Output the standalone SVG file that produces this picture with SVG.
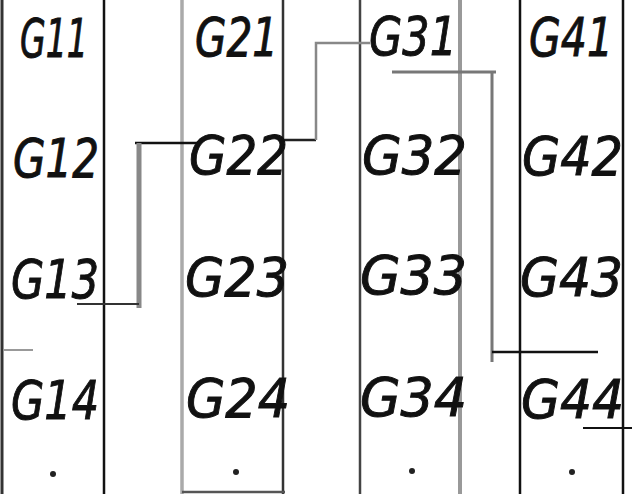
<svg xmlns="http://www.w3.org/2000/svg" width="632" height="494" viewBox="0 0 632 494">
<style>
text{font-family:"DejaVu Sans","Liberation Sans",sans-serif;font-size:54px;font-style:oblique;fill:#111;stroke:#111;stroke-width:1;}
.dot{fill:#222;}
</style>
<rect x="0" y="0" width="632" height="494" fill="#fff"/>
<g id="columns">
<line x1="2" y1="0" x2="2" y2="494" stroke="#333" stroke-width="3"/>
<line x1="104" y1="0" x2="104" y2="494" stroke="#111" stroke-width="2.5"/>
<line x1="182" y1="0" x2="182" y2="494" stroke="#aaa" stroke-width="3.5"/>
<line x1="283" y1="0" x2="283" y2="494" stroke="#333" stroke-width="2.5"/>
<line x1="182" y1="492" x2="285" y2="492" stroke="#555" stroke-width="2.5"/>
<line x1="360" y1="0" x2="360" y2="494" stroke="#444" stroke-width="2.5"/>
<line x1="460" y1="0" x2="460" y2="494" stroke="#999" stroke-width="4"/>
<line x1="520" y1="0" x2="520" y2="494" stroke="#111" stroke-width="2.5"/>
<line x1="623" y1="0" x2="623" y2="494" stroke="#111" stroke-width="2.5"/>
</g>
<g id="connectors" fill="none">
<path d="M283 140H316" stroke="#222" stroke-width="2.5"/>
<path d="M316 140V43H370" stroke="#888" stroke-width="2.5"/>
<path d="M392 72H496" stroke="#777" stroke-width="3"/>
<path d="M492 72V362" stroke="#777" stroke-width="3"/>
<path d="M492 352H598" stroke="#111" stroke-width="2.5"/>
<path d="M135 143H200" stroke="#111" stroke-width="2.5"/>
<path d="M139 143V308" stroke="#888" stroke-width="5"/>
<path d="M77 304H139" stroke="#333" stroke-width="2"/>
<path d="M3 350H33" stroke="#999" stroke-width="2"/>
<path d="M583 428H632" stroke="#111" stroke-width="2"/>
</g>
<g id="G11"><text x="20" y="57" textLength="68" lengthAdjust="spacingAndGlyphs">G11</text></g>
<g id="G21"><text x="195" y="56" textLength="83" lengthAdjust="spacingAndGlyphs">G21</text></g>
<g id="G31"><text x="369" y="55" textLength="88" lengthAdjust="spacingAndGlyphs">G31</text></g>
<g id="G41"><text x="529" y="56" textLength="84" lengthAdjust="spacingAndGlyphs">G41</text></g>
<g id="G12"><text x="13" y="177" textLength="86" lengthAdjust="spacingAndGlyphs">G12</text></g>
<g id="G22"><text x="189" y="174" textLength="99" lengthAdjust="spacingAndGlyphs">G22</text></g>
<g id="G32"><text x="362" y="174" textLength="105" lengthAdjust="spacingAndGlyphs">G32</text></g>
<g id="G42"><text x="522" y="175" textLength="101" lengthAdjust="spacingAndGlyphs">G42</text></g>
<g id="G13"><text x="11" y="298" textLength="88" lengthAdjust="spacingAndGlyphs">G13</text></g>
<g id="G23"><text x="185" y="296" textLength="104" lengthAdjust="spacingAndGlyphs">G23</text></g>
<g id="G33"><text x="360" y="294" textLength="107" lengthAdjust="spacingAndGlyphs">G33</text></g>
<g id="G43"><text x="520" y="296" textLength="103" lengthAdjust="spacingAndGlyphs">G43</text></g>
<g id="G14"><text x="11" y="419" textLength="88" lengthAdjust="spacingAndGlyphs">G14</text></g>
<g id="G24"><text x="186" y="417" textLength="104" lengthAdjust="spacingAndGlyphs">G24</text></g>
<g id="G34"><text x="360" y="416" textLength="107" lengthAdjust="spacingAndGlyphs">G34</text></g>
<g id="G44"><text x="521" y="418" textLength="103" lengthAdjust="spacingAndGlyphs">G44</text></g>
<g id="dots">
<circle class="dot" cx="53" cy="474" r="3"/>
<circle class="dot" cx="236" cy="472" r="3"/>
<circle class="dot" cx="412" cy="471" r="3"/>
<circle class="dot" cx="572" cy="472" r="3"/>
</g>
</svg>
